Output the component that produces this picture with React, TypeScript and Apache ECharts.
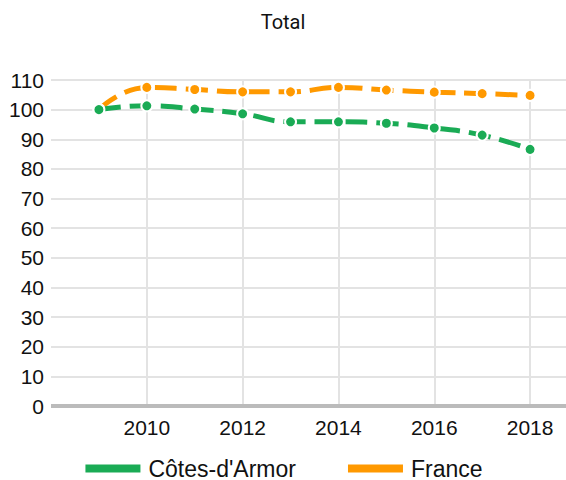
import React, { useEffect, useRef } from "react";
import * as echarts from "echarts";

const years = [2009, 2010, 2011, 2012, 2013, 2014, 2015, 2016, 2017, 2018];
const cotesArmor = [100, 101.3, 100.2, 98.6, 95.9, 95.9, 95.4, 93.8, 91.4, 86.6];
const france = [100, 107.5, 106.8, 106.0, 106.0, 107.5, 106.6, 105.9, 105.4, 104.8];
const seriesNames = ["Côtes-d'Armor", "France"];

export default function App() {
  const ref = useRef<HTMLDivElement>(null);
  useEffect(() => {
    if (!ref.current) return;
    const chart = echarts.init(ref.current, undefined, { renderer: "svg" });
    const mk = (vals: number[]) => years.map((y, i) => [y, vals[i]]);
    chart.setOption({
      animation: false,
      title: {
        text: "Total",
        left: "center",
        top: 7,
        textStyle: { fontFamily: "Roboto", fontSize: 20, fontWeight: "normal", color: "#111" },
      },
      legend: {
        top: 457,
        left: "center",
        padding: 0,
        itemWidth: 57,
        itemHeight: 10,
        itemGap: 50,
        icon: "rect",
        textStyle: {
          fontFamily: "Liberation Sans",
          fontSize: 23,
          lineHeight: 23,
          color: "#111",
          padding: [0, 0, 0, 2],
        },
        data: seriesNames,
      },
      grid: { left: 51, right: 0, top: 80, bottom: 74, containLabel: false },
      xAxis: {
        type: "value",
        min: 2008,
        max: 2018.75,
        interval: 2,
        axisLine: { show: false },
        axisTick: { show: false },
        axisLabel: {
          showMinLabel: false,
          showMaxLabel: false,
          formatter: (v: number) => String(v),
          fontFamily: "Liberation Sans",
          fontSize: 21,
          color: "#111",
          margin: 11,
        },
        splitLine: { show: true, showMinLine: false, showMaxLine: false, lineStyle: { color: "#e3e3e3", width: 2 } },
      },
      yAxis: {
        type: "value",
        min: 0,
        max: 110,
        interval: 10,
        axisLine: { show: false },
        axisTick: { show: false },
        axisLabel: { fontFamily: "Liberation Sans", fontSize: 21, color: "#111", margin: 7 },
        splitLine: { show: true, lineStyle: { color: "#e3e3e3", width: 2 } },
      },
      series: [
        {
          name: seriesNames[0],
          type: "line",
          smooth: true,
          z: 3,
          data: mk(cotesArmor),
          color: "#1aab55",
          lineStyle: { width: 5, type: [22, 9] },
          symbol: "circle",
          symbolSize: 11,
          itemStyle: { color: "#1aab55", borderColor: "#fff", borderWidth: 2 },
          markLine: {
            silent: true,
            symbol: "none",
            label: { show: false },
            lineStyle: { color: "#bbbbbb", width: 4, type: "solid" },
            data: [{ yAxis: 0 }],
          },
        },
        {
          name: seriesNames[1],
          type: "line",
          smooth: true,
          z: 2,
          data: mk(france),
          color: "#ff9900",
          lineStyle: { width: 5, type: [22, 9] },
          symbol: "circle",
          symbolSize: 11,
          itemStyle: { color: "#ff9900", borderColor: "#fff", borderWidth: 2 },
        },
      ],
    });
    return () => chart.dispose();
  }, []);
  return (
    <div
      ref={ref}
      style={{ position: "fixed", left: 0, top: 0, width: 566, height: 480, background: "#fff" }}
    />
  );
}
